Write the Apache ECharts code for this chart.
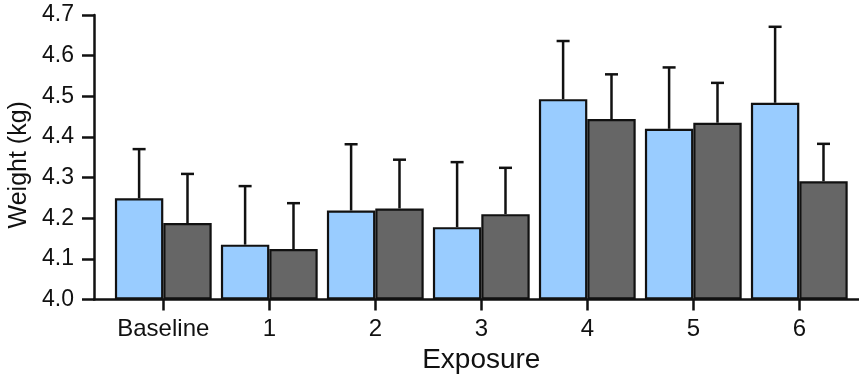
<!DOCTYPE html>
<html>
<head>
<meta charset="utf-8">
<script src="https://cdn.jsdelivr.net/npm/echarts@6/dist/echarts.min.js"></script>
<style>
  html, body { margin: 0; padding: 0; background: #fff; }
  #chart { width: 859px; height: 375px; }
</style>
</head>
<body>
<div id="chart"></div>
<script>
// Exposure groups along the x axis
const categories = ['Baseline', '1', '2', '3', '4', '5', '6'];

// Mean weight (kg) and upper error for the two groups
const groupAMeans = [4.249, 4.135, 4.219, 4.178, 4.493, 4.420, 4.484];
const groupAErrors = [0.121, 0.144, 0.163, 0.160, 0.143, 0.151, 0.187];
const groupBMeans = [4.188, 4.124, 4.224, 4.210, 4.444, 4.435, 4.291];
const groupBErrors = [0.121, 0.113, 0.120, 0.114, 0.110, 0.098, 0.092];

// Value axis range and tick labels
const yMin = 4.0, yMax = 4.7, yStep = 0.1;

const FONT = 'Liberation Sans, Arial, sans-serif';
const INK = '#111';
const CAT_GAP = 0.087;   // fraction of a category band left empty

const chart = echarts.init(document.getElementById('chart'), null, { renderer: 'canvas' });

// Upward-only whiskers with caps, offset to sit over each bar of the pair
function errorBars(means, errors, side) {
  return {
    type: 'custom',
    xAxisIndex: 1,
    yAxisIndex: 1,
    z: 5,
    data: means.map((m, i) => [i, m, m + errors[i]]),
    renderItem: function (params, api) {
      const band = api.size([1, 0])[0];
      const off = side * band * (1 - CAT_GAP) / 4;
      const base = api.coord([api.value(0), api.value(1)]);
      const top = api.coord([api.value(0), api.value(2)]);
      const x = base[0] + off;
      const cap = 6.5;
      const style = { stroke: INK, lineWidth: 2.5, fill: null };
      return {
        type: 'group',
        children: [
          { type: 'line', shape: { x1: x, y1: base[1], x2: x, y2: top[1] }, style: style },
          { type: 'line', shape: { x1: x - cap, y1: top[1], x2: x + cap, y2: top[1] }, style: style }
        ]
      };
    }
  };
}

const option = {
  animation: false,
  backgroundColor: '#fff',
  grid: [
    { left: 94, right: 0, top: 15, bottom: 75.5, outerBoundsMode: 'none', containLabel: false },
    { left: 110.3, right: 6.7, top: 15, bottom: 75.5, outerBoundsMode: 'none', containLabel: false }
  ],
  xAxis: [
    {
      type: 'value', gridIndex: 0, min: 0, max: 1,
      axisLine: { show: true, lineStyle: { color: INK, width: 2.5 } },
      axisTick: { show: false }, axisLabel: { show: false }, splitLine: { show: false }
    },
    {
      type: 'category', gridIndex: 1, data: categories,
      axisLine: { show: false },
      axisTick: { show: true, alignWithLabel: true, length: 11, interval: 0,
                  lineStyle: { color: INK, width: 2.5 } },
      axisLabel: { color: INK, fontFamily: FONT, fontSize: 24, margin: 18, interval: 0 },
      name: 'Exposure', nameLocation: 'middle', nameGap: 57.5,
      nameTextStyle: { color: INK, fontFamily: FONT, fontSize: 28, verticalAlign: 'middle' }
    }
  ],
  yAxis: [
    {
      type: 'value', gridIndex: 0, min: yMin, max: yMax, interval: yStep,
      axisLine: { show: true, lineStyle: { color: INK, width: 2.5 } },
      axisTick: { show: true, length: 12, lineStyle: { color: INK, width: 2.5 } },
      axisLabel: { color: INK, fontFamily: FONT, fontSize: 23, margin: 20,
                   formatter: v => v.toFixed(1) },
      splitLine: { show: false },
      name: 'Weight (kg)', nameLocation: 'middle', nameGap: 51, nameRotate: 90,
      nameTextStyle: { color: INK, fontFamily: FONT, fontSize: 25, padding: [0, 15, 0, 0] }
    },
    {
      type: 'value', gridIndex: 1, min: yMin, max: yMax, interval: yStep, startValue: yMin,
      show: false, splitLine: { show: false }
    }
  ],
  series: [
    {
      type: 'bar', xAxisIndex: 1, yAxisIndex: 1, data: groupAMeans,
      barGap: '0%', barCategoryGap: (CAT_GAP * 100) + '%',
      itemStyle: { color: '#99ccff', borderColor: INK, borderWidth: 2.2 }
    },
    {
      type: 'bar', xAxisIndex: 1, yAxisIndex: 1, data: groupBMeans,
      barGap: '0%', barCategoryGap: (CAT_GAP * 100) + '%',
      itemStyle: { color: '#666666', borderColor: INK, borderWidth: 2.2 }
    },
    errorBars(groupAMeans, groupAErrors, -1),
    errorBars(groupBMeans, groupBErrors, 1)
  ]
};

chart.setOption(option);
</script>
</body>
</html>
